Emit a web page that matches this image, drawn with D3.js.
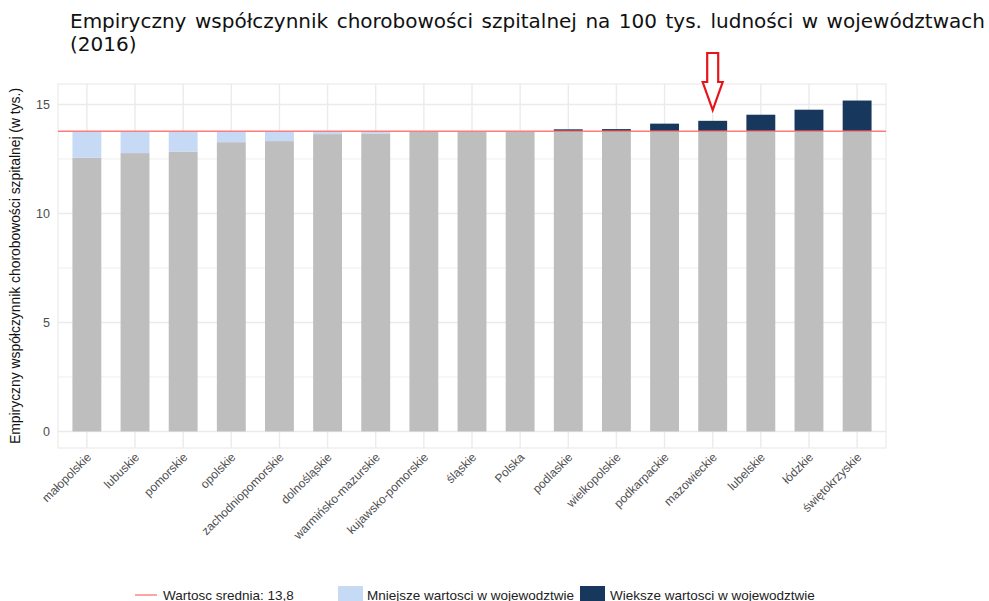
<!DOCTYPE html>
<html>
<head>
<meta charset="utf-8">
<script src="https://cdn.jsdelivr.net/npm/d3@7"></script>
<style>
  body { margin: 0; background: #fff; }
  svg { display: block; font-family: "Liberation Sans", Arial, sans-serif; }
</style>
</head>
<body>
<script>
const categories = ['małopolskie', 'lubuskie', 'pomorskie', 'opolskie', 'zachodniopomorskie', 'dolnośląskie',
  'warmińsko-mazurskie', 'kujawsko-pomorskie', 'śląskie', 'Polska', 'podlaskie', 'wielkopolskie',
  'podkarpackie', 'mazowieckie', 'lubelskie', 'łódzkie', 'świętokrzyskie'];
const values = [12.56, 12.77, 12.84, 13.27, 13.32, 13.64, 13.67, 13.74, 13.76, 13.77, 13.86, 13.87,
  14.12, 14.25, 14.53, 14.76, 15.18];
const meanValue = 13.77;
const meanLabel = '13,8';
const yTicks = [0, 5, 10, 15];
const yMinor = [2.5, 7.5, 12.5];
const highlighted = 'mazowieckie';
const legendLabels = ['Wartosc srednia: ' + meanLabel, 'Mniejsze wartosci w wojewodztwie', 'Wieksze wartosci w wojewodztwie'];

const width = 989, height = 601;
const panel = { left: 58, right: 886, top: 84, bottom: 448 };
const grey = '#bebebe', light = '#c6daf6', dark = '#17375c', red = '#ff7b7b', gridColor = '#ebebeb';

const data = categories.map((c, i) => ({ name: c, value: values[i] }));

const svg = d3.select('body').append('svg')
  .attr('width', width)
  .attr('height', height);

const x = d3.scalePoint()
  .domain(categories)
  .range([panel.left, panel.right])
  .padding(0.6);

const barWidth = x.step() * 0.6;

const yMax = d3.max(values);
const yPad = yMax * 0.05;
const y = d3.scaleLinear()
  .domain([-yPad, yMax + yPad])
  .range([panel.bottom, panel.top]);

// grid
const grid = svg.append('g');
grid.selectAll('.minor')
  .data(yMinor)
  .enter().append('line')
  .attr('x1', panel.left).attr('x2', panel.right)
  .attr('y1', d => y(d)).attr('y2', d => y(d))
  .attr('stroke', gridColor).attr('stroke-width', 0.8);
grid.selectAll('.major')
  .data(yTicks)
  .enter().append('line')
  .attr('x1', panel.left).attr('x2', panel.right)
  .attr('y1', d => y(d)).attr('y2', d => y(d))
  .attr('stroke', gridColor).attr('stroke-width', 1.4);
grid.selectAll('.vert')
  .data(categories)
  .enter().append('line')
  .attr('x1', d => x(d)).attr('x2', d => x(d))
  .attr('y1', panel.top).attr('y2', panel.bottom)
  .attr('stroke', gridColor).attr('stroke-width', 1.4);
grid.append('rect')
  .attr('x', panel.left).attr('y', panel.top)
  .attr('width', panel.right - panel.left).attr('height', panel.bottom - panel.top)
  .attr('fill', 'none').attr('stroke', gridColor).attr('stroke-width', 1.2);

// grey base bars
svg.append('g').selectAll('rect')
  .data(data)
  .enter().append('rect')
  .attr('x', d => x(d.name) - barWidth / 2)
  .attr('width', barWidth)
  .attr('y', d => y(Math.min(d.value, meanValue)))
  .attr('height', d => y(0) - y(Math.min(d.value, meanValue)))
  .attr('fill', grey);

// difference to the mean
svg.append('g').selectAll('rect')
  .data(data.filter(d => Math.abs(d.value - meanValue) > 0.001))
  .enter().append('rect')
  .attr('x', d => x(d.name) - barWidth / 2)
  .attr('width', barWidth)
  .attr('y', d => y(Math.max(d.value, meanValue)))
  .attr('height', d => Math.abs(y(d.value) - y(meanValue)))
  .attr('fill', d => d.value < meanValue ? light : dark);

// mean line
svg.append('line')
  .attr('x1', panel.left).attr('x2', panel.right)
  .attr('y1', y(meanValue)).attr('y2', y(meanValue))
  .attr('stroke', red).attr('stroke-width', 1.4);

// y tick labels
svg.append('g').selectAll('text')
  .data(yTicks)
  .enter().append('text')
  .text(d => d)
  .attr('x', panel.left - 8)
  .attr('y', d => y(d) + 4.5)
  .attr('text-anchor', 'end')
  .attr('font-size', 12.5)
  .attr('fill', '#4d4d4d');

// x tick labels
svg.append('g').selectAll('text')
  .data(categories)
  .enter().append('text')
  .text(d => d)
  .attr('text-anchor', 'end')
  .attr('font-size', 12)
  .attr('fill', '#4d4d4d')
  .attr('transform', d => 'translate(' + (x(d) + 5) + ',' + (panel.bottom + 10) + ') rotate(-45)');

// y axis title
svg.append('text')
  .text('Empiryczny współczynnik chorobowości szpitalnej (w tys.)')
  .attr('text-anchor', 'middle')
  .attr('font-size', 15)
  .attr('fill', '#111')
  .attr('textLength', 356)
  .attr('lengthAdjust', 'spacingAndGlyphs')
  .attr('transform', 'translate(20,' + ((panel.top + panel.bottom) / 2) + ') rotate(-90)');

// title, justified by widening the spaces between words
const titleLine = svg.append('text')
  .text('Empiryczny współczynnik chorobowości szpitalnej na 100 tys. ludności w województwach')
  .attr('x', 70).attr('y', 28)
  .attr('font-family', '"DejaVu Sans", sans-serif')
  .attr('font-size', 20)
  .attr('fill', '#111');
const spaces = titleLine.text().split(' ').length - 1;
const extra = (915 - titleLine.node().getComputedTextLength()) / spaces;
titleLine.attr('word-spacing', extra);
svg.append('text')
  .text('(2016)')
  .attr('x', 70).attr('y', 51)
  .attr('font-family', '"DejaVu Sans", sans-serif')
  .attr('font-size', 20)
  .attr('fill', '#111');

// arrow pointing at the highlighted bar
const ax = x(highlighted);
const arrowTop = 53;
svg.append('path')
  .attr('d', 'M' + (ax - 5.5) + ',' + arrowTop + ' h11 v29 h4.5 L' + ax + ',' + (arrowTop + 57) +
    ' L' + (ax - 10) + ',' + (arrowTop + 29) + ' h4.5 Z')
  .attr('fill', '#fff')
  .attr('stroke', '#e8141c')
  .attr('stroke-width', 2.2)
  .attr('stroke-linejoin', 'miter');

// legend
const legend = svg.append('g');
legend.append('line')
  .attr('x1', 135).attr('x2', 157)
  .attr('y1', 595).attr('y2', 595)
  .attr('stroke', red).attr('stroke-width', 1.4);
legend.append('text')
  .text(legendLabels[0])
  .attr('x', 163).attr('y', 599.5)
  .attr('font-size', 13.5).attr('fill', '#222');
legend.append('rect')
  .attr('x', 338).attr('y', 586).attr('width', 25).attr('height', 20)
  .attr('fill', light);
legend.append('text')
  .text(legendLabels[1])
  .attr('x', 367).attr('y', 599.5)
  .attr('font-size', 13.5).attr('fill', '#222');
legend.append('rect')
  .attr('x', 580).attr('y', 586).attr('width', 25).attr('height', 20)
  .attr('fill', dark);
legend.append('text')
  .text(legendLabels[2])
  .attr('x', 610).attr('y', 599.5)
  .attr('font-size', 13.5).attr('fill', '#222');
</script>
</body>
</html>
